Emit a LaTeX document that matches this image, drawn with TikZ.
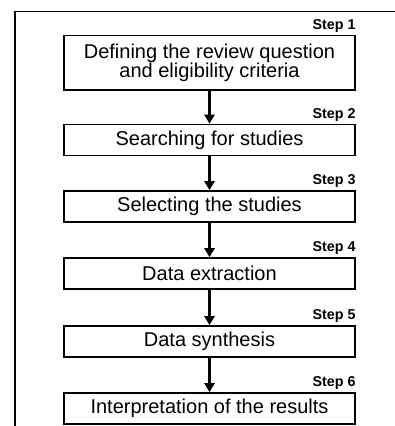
\documentclass[tikz,border=0pt]{standalone}
\usepackage{fontspec}
\setmainfont{Liberation Sans}
\usetikzlibrary{arrows.meta}
\begin{document}
\begin{tikzpicture}[x=1pt,y=1pt,
  stepbox/.style={draw, line width=1.6pt, minimum width=291pt, inner sep=0pt,
    align=center, font=\fontsize{20}{19.5}\selectfont},
  steplabel/.style={anchor=base east, inner sep=0pt, font=\fontsize{14.3}{16}\bfseries},
  flow/.style={line width=2.4pt, -{Triangle[length=9pt,width=10pt]}}]
\useasboundingbox (0,0) rectangle (395,426);
\draw[line width=1.3pt] (15,0) -- (15,414.3) -- (395,414.3);
\node[stepbox, minimum height=54.5pt] (b1) at (209.5,363.25) {Defining the review question\\and eligibility criteria};
\node[stepbox, minimum height=31pt] (b2) at (209.5,286) {Searching for studies};
\node[stepbox, minimum height=31pt] (b3) at (209.5,219.5) {Selecting the studies};
\node[stepbox, minimum height=31pt] (b4) at (209.5,152.5) {Data extraction};
\node[stepbox, minimum height=31pt] (b5) at (209.5,84.5) {Data synthesis};
\node[stepbox, minimum height=31pt] (b6) at (209.5,17.5) {Interpretation of the results};
\foreach \i in {1,...,6}{
  \node[steplabel] (s\i) at ([yshift=5.5pt]b\i.north east) {Step \i};
}
\foreach \a/\b in {b1/b2,b2/b3,b3/b4,b4/b5,b5/b6}{
  \draw[flow] (\a.south) -- (\b.north);
}
\end{tikzpicture}
\end{document}
